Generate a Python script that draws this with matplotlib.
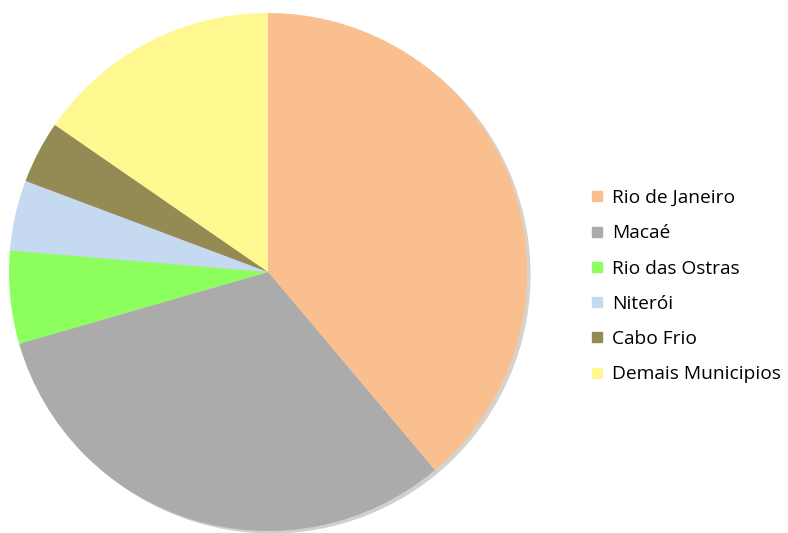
import matplotlib.pyplot as plt
from matplotlib.lines import Line2D

municipios = ["Rio de Janeiro", "Macaé", "Rio das Ostras", "Niterói",
              "Cabo Frio", "Demais Municipios"]
participacao = [38.9, 31.7, 5.8, 4.4, 3.9, 15.4]
cores = ["#FABF8F", "#ABABAB", "#8CFF5E", "#C5D9F1", "#948A54", "#FFF890"]

plt.rcParams['font.family'] = ['Open Sans', 'DejaVu Sans']

fig = plt.figure(figsize=(7.88, 5.33), dpi=100)
ax = fig.add_axes([9 / 788, 2 / 533, 518 / 788, 518 / 533])

ax.pie(participacao, colors=cores, startangle=90, counterclock=False,
       radius=1, wedgeprops=dict(linewidth=0),
       shadow=dict(ox=0.01, oy=-0.007, shade=0.6, alpha=0.25))
ax.set_xlim(-1.0, 1.0)
ax.set_ylim(-1.0, 1.0)
ax.set_aspect('equal')
ax.axis('off')

handles = [Line2D([], [], marker='s', linestyle='none', markersize=7.5,
                  markerfacecolor=c, markeredgecolor=c) for c in cores]
fig.legend(handles, municipios, loc='upper left',
           bbox_to_anchor=(590 / 788, 1 - 189 / 533), frameon=False,
           fontsize=13.8, labelspacing=0.9, handlelength=0.7,
           handletextpad=0.45, borderaxespad=0, borderpad=0)

fig.savefig("out.png", dpi=100)
